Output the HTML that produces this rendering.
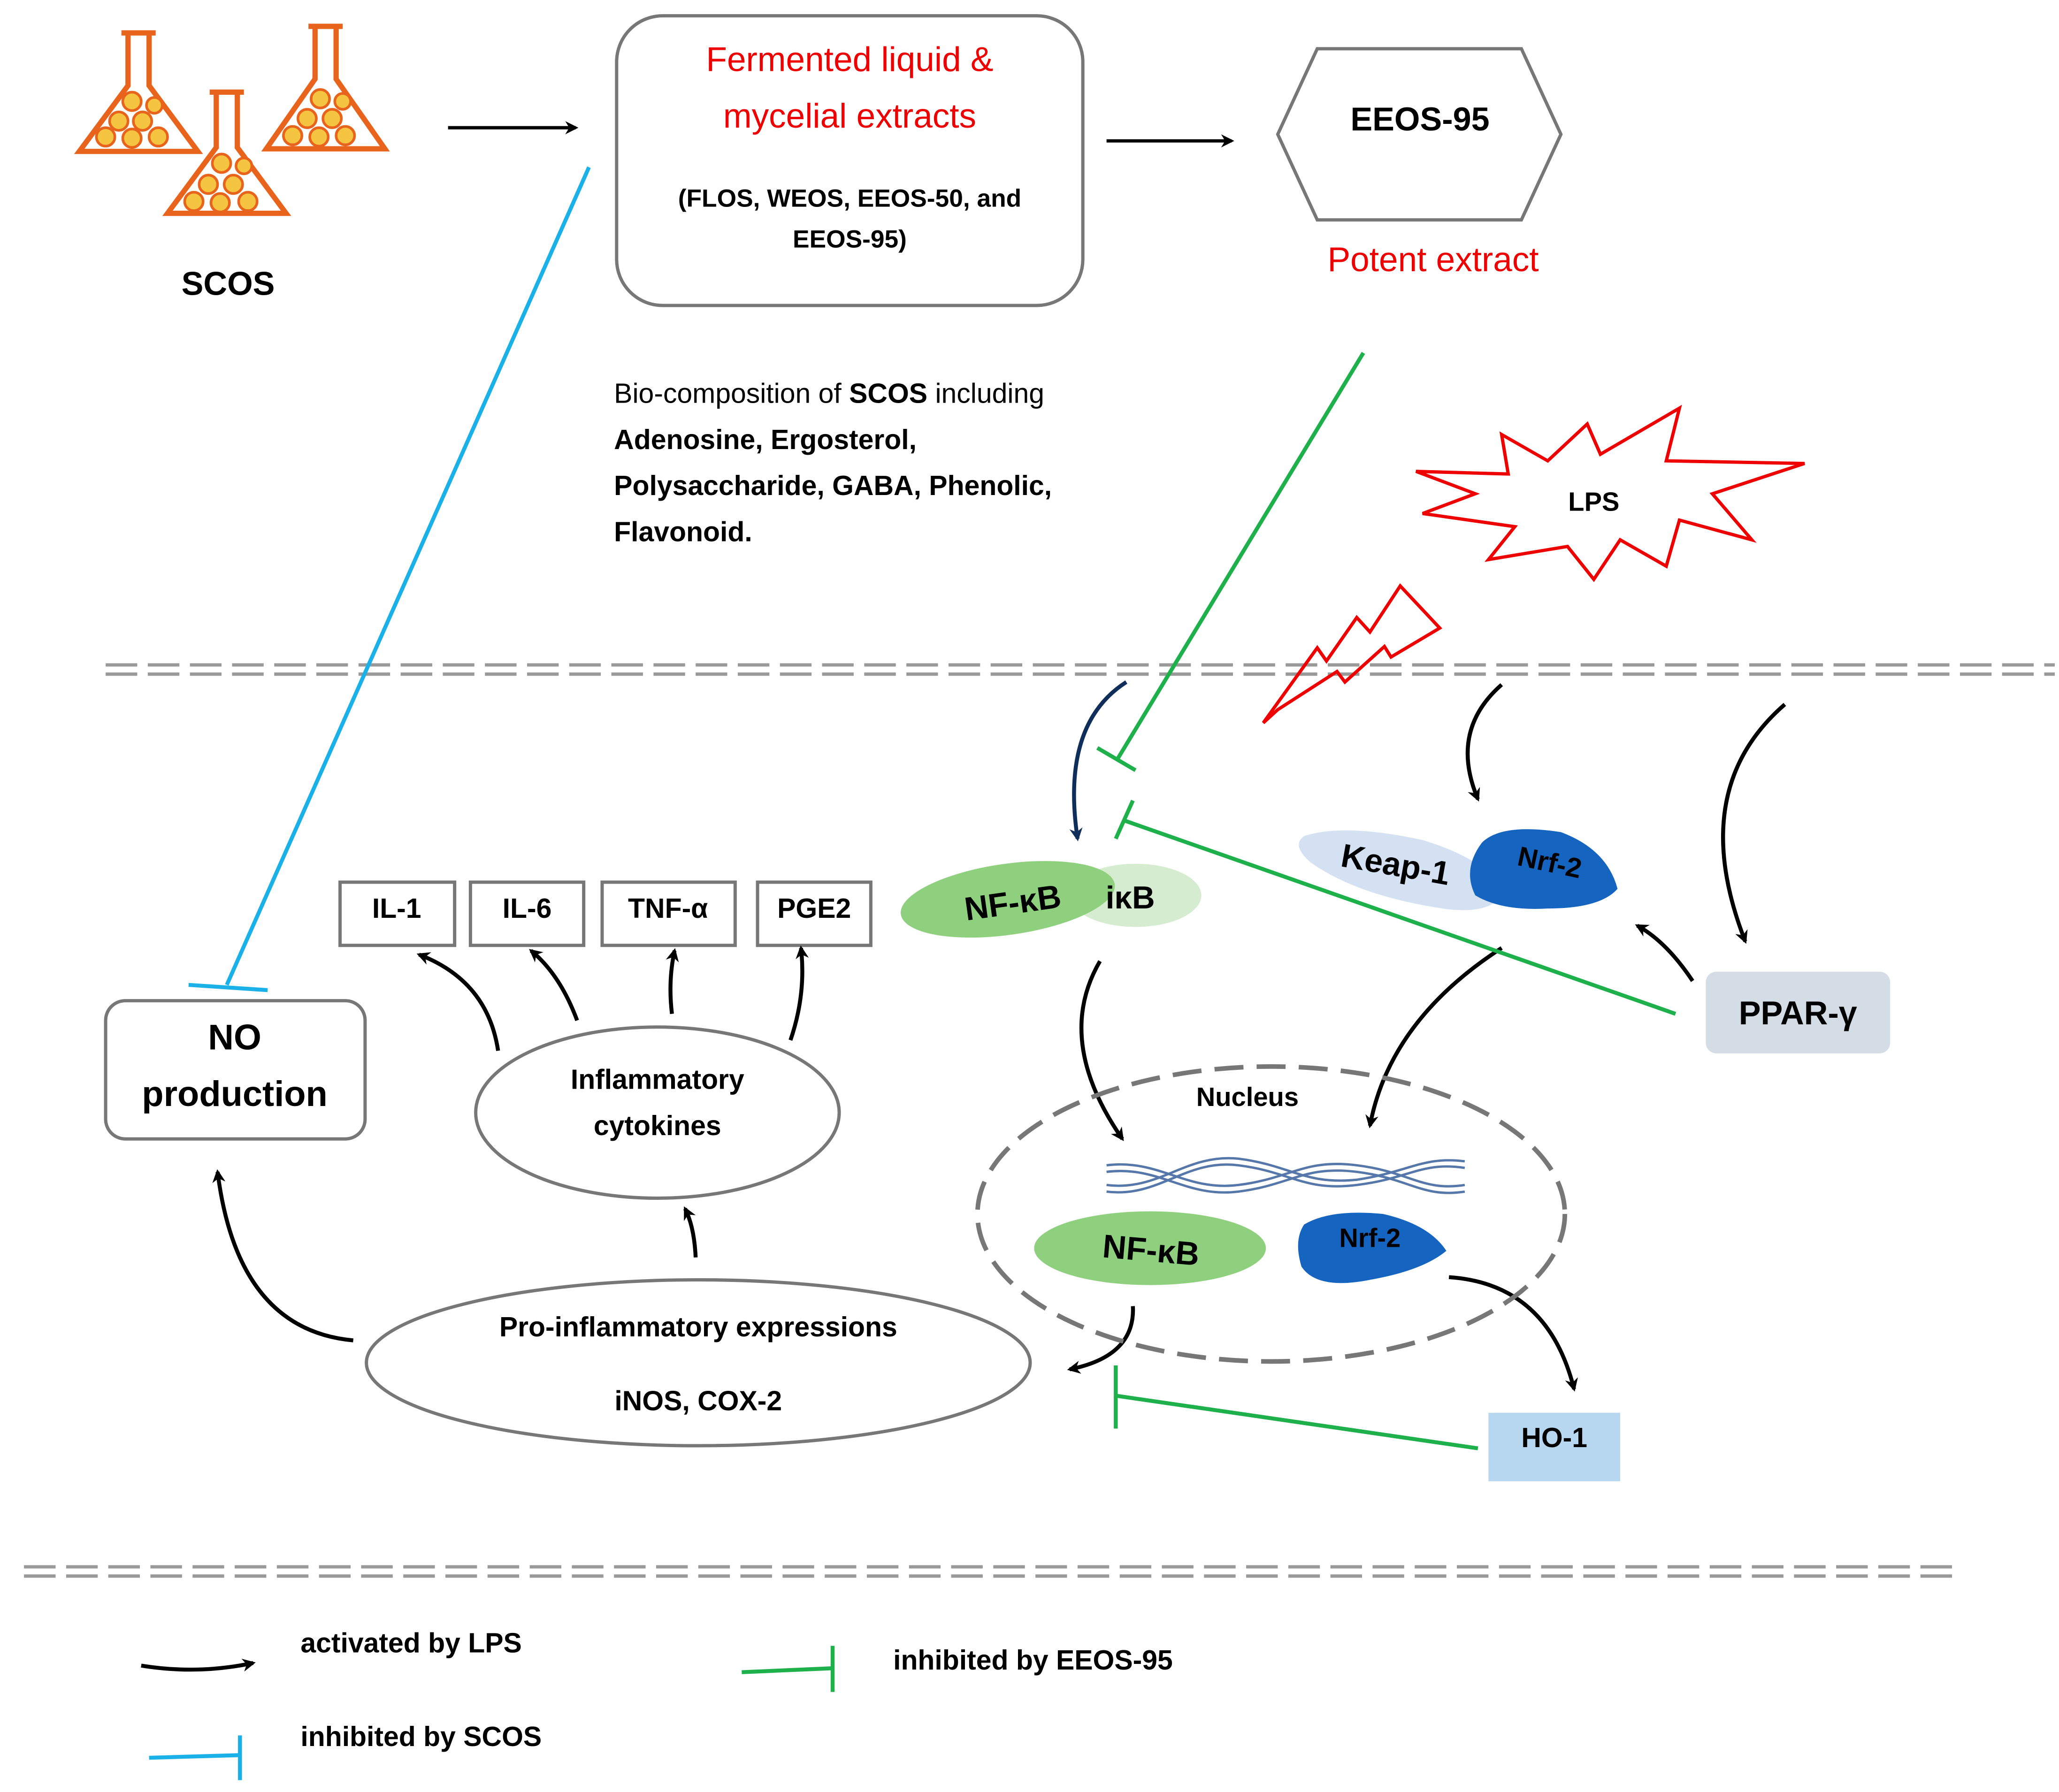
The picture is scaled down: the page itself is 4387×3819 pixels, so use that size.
<!DOCTYPE html>
<html><head><meta charset="utf-8"><style>
html,body{margin:0;padding:0;background:#fff;}
svg{display:block;}
text{font-family:"Liberation Sans",sans-serif;}
</style></head><body>
<svg width="4387" height="3819" viewBox="0 0 1563 1361" xmlns="http://www.w3.org/2000/svg">
<defs>
<marker id="ab" markerWidth="10" markerHeight="10" refX="8" refY="5" orient="auto" markerUnits="userSpaceOnUse"><path d="M0,0 L10,5 L0,10 L3,5 Z" fill="#000"/></marker>
<marker id="ad" markerWidth="10" markerHeight="10" refX="8" refY="5" orient="auto" markerUnits="userSpaceOnUse"><path d="M0,0 L10,5 L0,10 L3,5 Z" fill="#0f2f5a"/></marker>
</defs>
<rect width="1563" height="1361" fill="#fff"/>

<!-- flasks -->
<g stroke="#e8641c" stroke-width="4" fill="#fff">
<path d="M92,25 h26 M97,25 v40 l-37,50 h90 l-37,-50 v-40"/>
<path d="M159,70 h26 M164,70 v42 l-37,50 h90 l-37,-50 v-42"/>
<path d="M234,20 h26 M239,20 v40 l-37,53 h90 l-37,-53 v-40"/>
</g>
<g fill="#f5c542" stroke="#e8641c" stroke-width="2">
<circle cx="100" cy="77" r="7"/><circle cx="90" cy="92" r="7"/><circle cx="108" cy="92" r="7"/><circle cx="80" cy="104" r="7"/><circle cx="100" cy="105" r="7"/><circle cx="120" cy="104" r="7"/><circle cx="117" cy="80" r="6"/>
<circle cx="168" cy="124" r="7"/><circle cx="158" cy="140" r="7"/><circle cx="177" cy="140" r="7"/><circle cx="147" cy="153" r="7"/><circle cx="167" cy="154" r="7"/><circle cx="188" cy="153" r="7"/><circle cx="185" cy="126" r="6"/>
<circle cx="243" cy="75" r="7"/><circle cx="233" cy="90" r="7"/><circle cx="252" cy="90" r="7"/><circle cx="222" cy="103" r="7"/><circle cx="242" cy="104" r="7"/><circle cx="262" cy="103" r="7"/><circle cx="260" cy="77" r="6"/>
</g>
<text x="173" y="224" font-size="25" font-weight="bold" text-anchor="middle">SCOS</text>

<line x1="340" y1="97" x2="437" y2="97" stroke="#000" stroke-width="2.5" marker-end="url(#ab)"/>
<rect x="468" y="12" width="354" height="220" rx="35" fill="#fff" stroke="#777" stroke-width="2.5"/>
<text x="645" y="54" font-size="26" fill="#e00" text-anchor="middle">Fermented liquid &amp;</text>
<text x="645" y="97" font-size="26" fill="#e00" text-anchor="middle">mycelial extracts</text>
<text x="645" y="157" font-size="19" font-weight="bold" text-anchor="middle">(FLOS, WEOS, EEOS-50, and</text>
<text x="645" y="188" font-size="19" font-weight="bold" text-anchor="middle">EEOS-95)</text>
<line x1="840" y1="107" x2="935" y2="107" stroke="#000" stroke-width="2.5" marker-end="url(#ab)"/>
<polygon points="970,102 1000,37 1155,37 1185,102 1155,167 1000,167" fill="#fff" stroke="#777" stroke-width="2.5"/>
<text x="1078" y="99" font-size="25" font-weight="bold" text-anchor="middle">EEOS-95</text>
<text x="1088" y="206" font-size="26" fill="#e00" text-anchor="middle">Potent extract</text>

<text x="466" y="306" font-size="21">Bio-composition of <tspan font-weight="bold">SCOS</tspan> including</text>
<text x="466" y="341" font-size="21" font-weight="bold">Adenosine, Ergosterol,</text>
<text x="466" y="376" font-size="21" font-weight="bold">Polysaccharide, GABA, Phenolic,</text>
<text x="466" y="411" font-size="21" font-weight="bold">Flavonoid.</text>

<!-- LPS star -->
<polygon points="1140,330 1175,350 1205,322 1215,345 1275,310 1265,350 1370,352 1300,375 1330,410 1275,395 1265,430 1230,410 1210,440 1190,415 1130,425 1150,400 1080,390 1120,375 1075,358 1145,360" fill="#fff" stroke="#e00" stroke-width="2.5"/>
<text x="1210" y="388" font-size="20" font-weight="bold" text-anchor="middle">LPS</text>

<!-- dashed lines -->
<g stroke="#999" stroke-width="2.5" stroke-dasharray="24,8">
<line x1="80" y1="505" x2="1560" y2="505"/><line x1="80" y1="512" x2="1560" y2="512"/>
<line x1="18" y1="1190" x2="1490" y2="1190"/><line x1="18" y1="1197" x2="1490" y2="1197"/>
</g>
<polygon points="959,549 1000,492 1007,502 1030,469 1040,480 1063,445 1093,477 1056,499 1051,491 1021,518 1015,510 970,539" fill="none" stroke="#e00" stroke-width="2.5" stroke-linejoin="miter"/>

<!-- blue inhibition -->
<line x1="447" y1="127" x2="172" y2="748" stroke="#1ab0e8" stroke-width="3"/>
<line x1="143" y1="748" x2="203" y2="752" stroke="#1ab0e8" stroke-width="3"/>

<rect x="80" y="760" width="197" height="105" rx="15" fill="#fff" stroke="#777" stroke-width="2.5"/>
<text x="178" y="797" font-size="27" font-weight="bold" text-anchor="middle">NO</text>
<text x="178" y="840" font-size="27" font-weight="bold" text-anchor="middle">production</text>

<g fill="#fff" stroke="#777" stroke-width="2.5">
<rect x="258" y="670" width="87" height="48"/><rect x="357" y="670" width="86" height="48"/>
<rect x="457" y="670" width="101" height="48"/><rect x="575" y="670" width="86" height="48"/>
<ellipse cx="499" cy="845" rx="138" ry="65"/><ellipse cx="530" cy="1035" rx="252" ry="63"/>
</g>
<g font-size="21" font-weight="bold" text-anchor="middle">
<text x="301" y="697">IL-1</text><text x="400" y="697">IL-6</text><text x="507" y="697">TNF-α</text><text x="618" y="697">PGE2</text>
<text x="499" y="827">Inflammatory</text><text x="499" y="862">cytokines</text>
<text x="530" y="1015">Pro-inflammatory expressions</text><text x="530" y="1071">iNOS, COX-2</text>
</g>
<g fill="none" stroke="#000" stroke-width="3" marker-end="url(#ab)">
<path d="M378,798 Q370,745 318,725"/><path d="M438,775 Q425,740 403,722"/>
<path d="M510,770 Q507,745 512,722"/><path d="M600,790 Q612,755 608,720"/>
<path d="M528,955 Q527,932 520,918"/><path d="M268,1018 Q180,1010 165,890"/>
<path d="M1140,520 Q1100,555 1122,607"/><path d="M1355,535 Q1280,600 1325,715"/>
<path d="M1285,745 Q1265,715 1243,703"/><path d="M1140,720 Q1055,775 1040,855"/>
<path d="M835,730 Q800,790 852,865"/><path d="M860,992 Q862,1030 812,1040"/>
<path d="M1100,970 Q1175,975 1195,1055"/>
</g>
<path d="M855,518 Q805,550 818,637" fill="none" stroke="#0f2f5a" stroke-width="3" marker-end="url(#ad)"/>

<!-- green inhibition -->
<g stroke="#1db04b" stroke-width="3">
<line x1="1035" y1="268" x2="848" y2="577"/><line x1="833" y1="568" x2="862" y2="585"/>
<line x1="1272" y1="770" x2="853" y2="623"/><line x1="847" y1="637" x2="860" y2="608"/>
<line x1="1122" y1="1100" x2="847" y2="1060"/><line x1="847" y1="1037" x2="847" y2="1085"/>
</g>

<!-- NF-kB complex -->
<ellipse cx="862" cy="680" rx="50" ry="24" fill="#d6ecd0"/>
<ellipse cx="765" cy="683" rx="82" ry="27" fill="#8fd07f" transform="rotate(-8 765 683)"/>
<text x="770" y="694" font-size="25" font-weight="bold" text-anchor="middle" transform="rotate(-8 770 694)">NF-κB</text>
<text x="858" y="690" font-size="24" font-weight="bold" text-anchor="middle">iκB</text>
<path d="M990,635 Q1020,625 1080,638 Q1135,655 1140,680 Q1130,695 1095,690 Q1030,680 995,655 Q980,642 990,635 Z" fill="#d4e1f2"/>
<path d="M1125,640 Q1140,625 1185,632 Q1220,645 1228,675 Q1215,690 1175,690 Q1140,692 1120,680 Q1110,660 1125,640 Z" fill="#1565c0"/>
<text x="1058" y="665" font-size="25" font-weight="bold" text-anchor="middle" transform="rotate(10 1058 665)">Keap-1</text>
<text x="1175" y="662" font-size="21" font-weight="bold" text-anchor="middle" transform="rotate(12 1175 662)">Nrf-2</text>
<rect x="1295" y="738" width="140" height="62" rx="8" fill="#d4dce6"/>
<text x="1365" y="778" font-size="25" font-weight="bold" text-anchor="middle">PPAR-γ</text>

<!-- nucleus -->
<ellipse cx="965" cy="922" rx="223" ry="112" fill="none" stroke="#777" stroke-width="3.5" stroke-dasharray="22,10"/>
<text x="947" y="840" font-size="20" font-weight="bold" text-anchor="middle">Nucleus</text>
<g fill="none" stroke="#5577aa" stroke-width="1.8">
<path d="M840,885 C880,880 900,905 940,900 C980,895 990,880 1030,885 C1070,890 1080,905 1112,900"/>
<path d="M840,890 C880,885 900,910 940,905 C980,900 990,885 1030,890 C1070,895 1080,910 1112,905"/>
<path d="M840,905 C880,910 900,880 940,885 C980,890 990,905 1030,900 C1070,895 1080,882 1112,887"/>
<path d="M840,900 C880,905 900,876 940,880 C980,885 990,900 1030,896 C1070,890 1080,878 1112,882"/>
</g>
<ellipse cx="873" cy="948" rx="88" ry="28" fill="#8fd07f"/>
<text x="873" y="958" font-size="25" font-weight="bold" text-anchor="middle" transform="rotate(5 873 958)">NF-κB</text>
<path d="M990,930 Q1010,918 1050,922 Q1085,930 1098,950 Q1080,965 1040,972 Q1000,980 988,962 Q982,942 990,930 Z" fill="#1565c0"/>
<text x="1040" y="947" font-size="20" font-weight="bold" text-anchor="middle">Nrf-2</text>
<rect x="1130" y="1073" width="100" height="52" fill="#b6d7ef"/>
<text x="1180" y="1099" font-size="21" font-weight="bold" text-anchor="middle">HO-1</text>

<!-- legend -->
<path d="M107,1265 Q150,1272 192,1263" fill="none" stroke="#000" stroke-width="3" marker-end="url(#ab)"/>
<text x="228" y="1255" font-size="21" font-weight="bold">activated by LPS</text>
<line x1="113" y1="1335" x2="182" y2="1333" stroke="#1ab0e8" stroke-width="3"/>
<line x1="182" y1="1318" x2="182" y2="1352" stroke="#1ab0e8" stroke-width="3"/>
<text x="228" y="1326" font-size="21" font-weight="bold">inhibited by SCOS</text>
<line x1="563" y1="1270" x2="632" y2="1267" stroke="#1db04b" stroke-width="3"/>
<line x1="632" y1="1250" x2="632" y2="1285" stroke="#1db04b" stroke-width="3"/>
<text x="678" y="1268" font-size="21" font-weight="bold">inhibited by EEOS-95</text>
</svg>
</body></html>
